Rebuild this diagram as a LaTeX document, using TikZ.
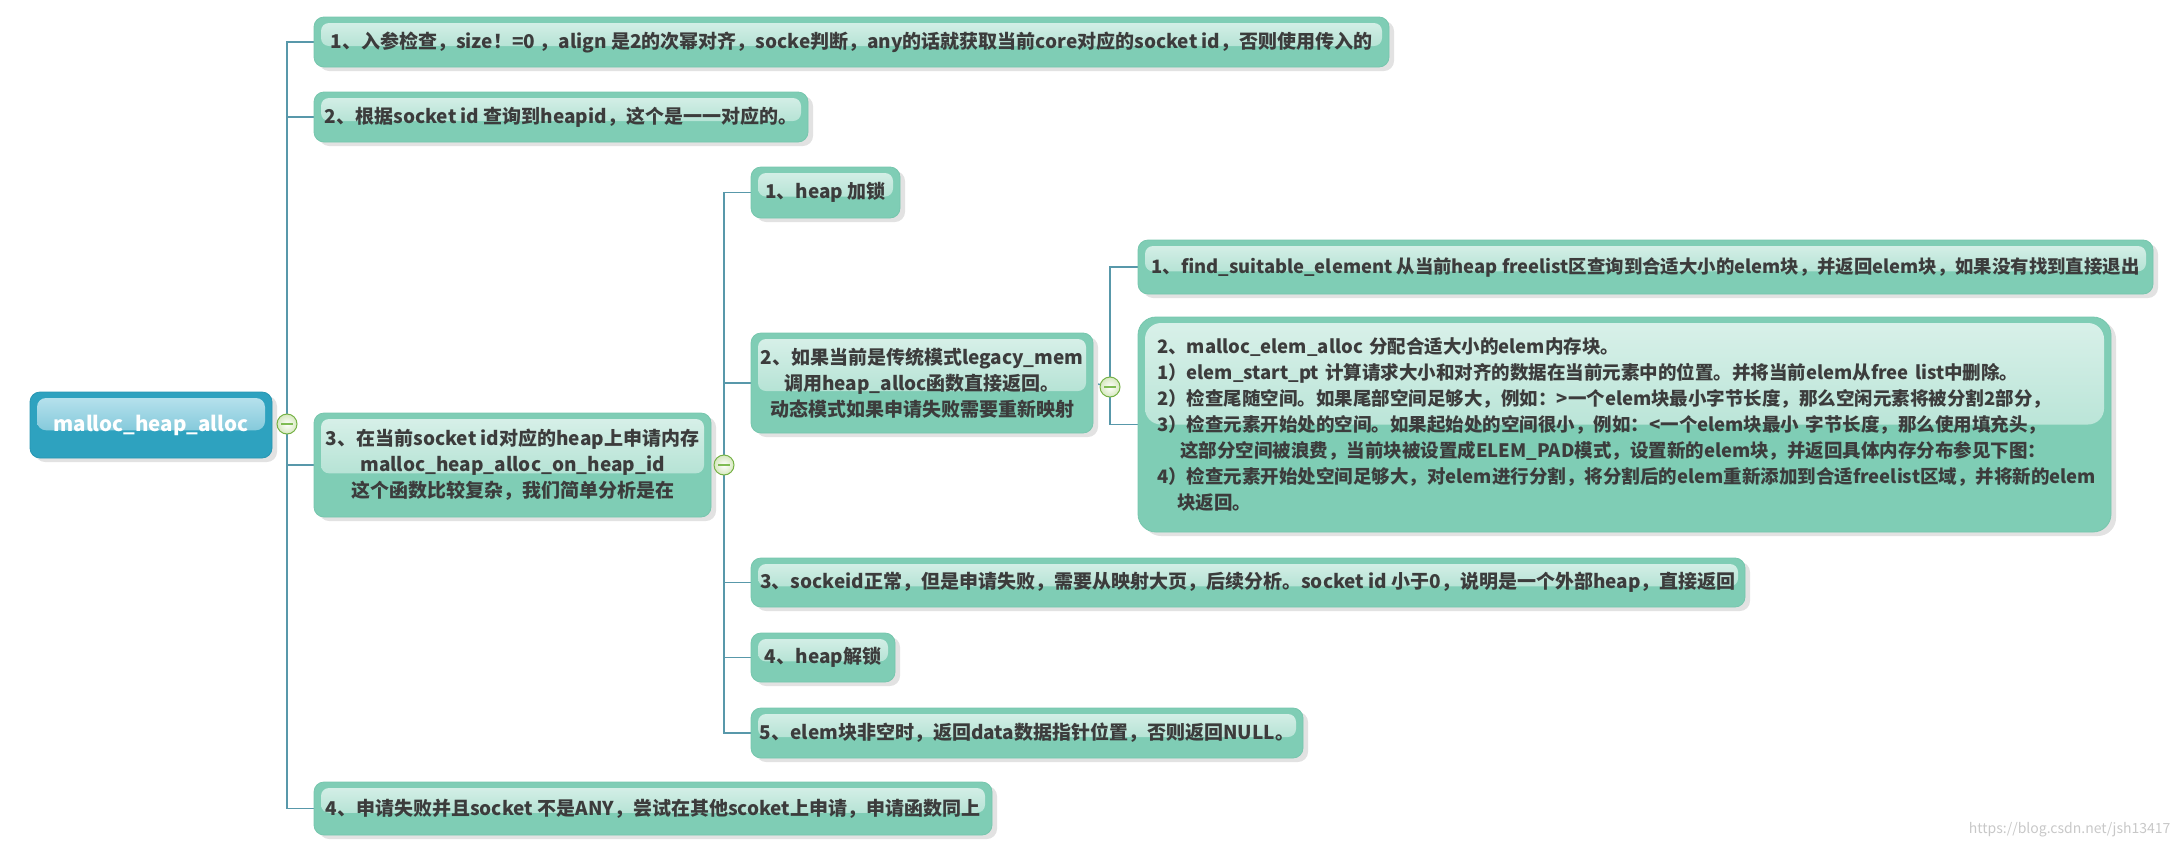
\documentclass[tikz,border=0pt]{standalone}
\usepackage{fontspec}
\setmainfont{Noto Sans CJK SC}
\usetikzlibrary{calc,shadows}
\definecolor{nodefill}{RGB}{127,205,181}
\definecolor{nodeedge}{RGB}{118,198,173}
\definecolor{glosstop}{RGB}{218,241,234}
\definecolor{glossbot}{RGB}{156,217,198}
\definecolor{rootfill}{RGB}{46,162,191}
\definecolor{rootedge}{RGB}{40,150,178}
\definecolor{rglosstop}{RGB}{190,229,239}
\definecolor{rglossbot}{RGB}{92,182,205}
\definecolor{shadowc}{RGB}{226,226,226}
\definecolor{connc}{RGB}{88,152,170}
\definecolor{textc}{RGB}{60,60,60}
\definecolor{circedge}{RGB}{118,178,70}
\definecolor{circfill}{RGB}{214,232,190}
\definecolor{minusc}{RGB}{128,188,84}
\definecolor{wmc}{RGB}{200,200,200}
\pgfdeclarelayer{background}
\pgfsetlayers{background,main}
\tikzset{
  glossy/.style n args={4}{path picture={
    \fill[top color=#1, bottom color=#2, rounded corners=#3]
      ([xshift=7pt,yshift=-6pt]path picture bounding box.north west) rectangle
      ($(path picture bounding box.north east)!#4!(path picture bounding box.south east)+(-7pt,0)$);
  }},
  box/.style={rectangle, rounded corners=10pt, fill=nodefill, draw=nodeedge, line width=0.8pt,
    text=textc, font=\fontsize{19}{26}\selectfont\bfseries, inner xsep=8pt, inner ysep=4pt, align=center,
    drop shadow={shadow xshift=5pt, shadow yshift=-4pt, fill=shadowc, opacity=1},
    glossy={glosstop}{glossbot}{8pt}{0.58}},
  rootbox/.style={rectangle, rounded corners=10pt, fill=rootfill, draw=rootedge, line width=0.8pt,
    text=white, font=\fontsize{20.5}{26}\selectfont\bfseries, inner xsep=8pt, align=center,
    drop shadow={shadow xshift=5pt, shadow yshift=-4pt, fill=shadowc, opacity=1},
    glossy={rglosstop}{rglossbot}{9pt}{0.58}},
  fold/.style={circle, minimum size=20pt, inner sep=0pt, draw=circedge, line width=1pt,
    inner color=white, outer color=circfill,
    path picture={\draw[minusc, line width=2pt]
      ([xshift=-6pt]path picture bounding box.center) -- ([xshift=6pt]path picture bounding box.center);}},
  conn/.style={draw=connc, line width=1.6pt},
}
\begin{document}
\begin{tikzpicture}[x=1pt,y=1pt]
\useasboundingbox (0,0) rectangle (2178,-852);
% root
\node[rootbox, minimum width=242pt, minimum height=66pt] (root) at (151,-425) {malloc\_heap\_alloc};
% level 1
\node[box, minimum width=1075pt, minimum height=50pt] (n1) at (851.5,-42)
  {1、入参检查，size！=0 ，align 是2的次幂对齐，socke判断，any的话就获取当前core对应的socket id，否则使用传入的};
\node[box, minimum width=494pt, minimum height=50pt] (n2) at (561,-117)
  {2、根据socket id 查询到heapid，这个是一一对应的。};
\node[box, minimum width=397pt, minimum height=104pt] (n3) at (512.5,-465)
  {3、在当前socket id对应的heap上申请内存\\malloc\_heap\_alloc\_on\_heap\_id\\这个函数比较复杂，我们简单分析是在};
\node[box, minimum width=678pt, minimum height=53pt] (n4) at (653,-808.5)
  {4、申请失败并且socket 不是ANY，尝试在其他scoket上申请，申请函数同上};
% level 2
\node[box, minimum width=149pt, minimum height=51pt] (m1) at (825.5,-192.5) {1、heap 加锁};
\node[box, minimum width=342pt, minimum height=100pt, inner xsep=4pt] (m2) at (922,-383)
  {2、如果当前是传统模式legacy\_mem\\调用heap\_alloc函数直接返回。\\动态模式如果申请失败需要重新映射};
\node[box, minimum width=994pt, minimum height=49pt] (m3) at (1248,-582.5)
  {3、sockeid正常，但是申请失败，需要从映射大页，后续分析。socket id 小于0，说明是一个外部heap，直接返回};
\node[box, minimum width=144pt, minimum height=49pt] (m4) at (823,-657.5) {4、heap解锁};
\node[box, minimum width=552pt, minimum height=50pt] (m5) at (1027,-733)
  {5、elem块非空时，返回data数据指针位置，否则返回NULL。};
% level 3
\node[box, minimum width=1015pt, minimum height=54pt, inner xsep=4pt, font=\fontsize{18.4}{26}\selectfont\bfseries] (l1) at (1645.5,-267)
  {1、find\_suitable\_element 从当前heap freelist区查询到合适大小的elem块，并返回elem块，如果没有找到直接退出};
\node[box, rounded corners=18pt, glossy={glosstop}{glossbot}{16pt}{0.5}, minimum height=215pt,
  text width=935pt, inner xsep=19pt, align=left, font=\fontsize{18.5}{26}\selectfont\bfseries] (l2) at (1624.5,-424.5)
  {\mbox{2、malloc\_elem\_alloc 分配合适大小的elem内存块。}\\
   \mbox{1）elem\_start\_pt 计算请求大小和对齐的数据在当前元素中的位置。并将当前elem从free list中删除。}\\
   \mbox{2）检查尾随空间。如果尾部空间足够大，例如：>一个elem块最小字节长度，那么空闲元素将被分割2部分，}\\
   \mbox{3）检查元素开始处的空间。如果起始处的空间很小，例如：<一个elem块最小 字节长度，那么使用填充头，}\\
   \mbox{\hspace*{23pt}这部分空间被浪费，当前块被设置成ELEM\_PAD模式，设置新的elem块，并返回具体内存分布参见下图：}\\
   \mbox{4）检查元素开始处空间足够大，对elem进行分割，将分割后的elem重新添加到合适freelist区域，并将新的elem}\\
   \mbox{\hspace*{20pt}块返回。}};
% fold markers
\node[fold] (c0) at (287,-424) {};
\node[fold] (c3) at (724,-465) {};
\node[fold] (c22) at (1110,-387) {};
% connectors
\begin{pgfonlayer}{background}
\draw[conn] (root.east) -- (c0);
\draw[conn] (c0.center) |- (n1.west);
\draw[conn] (c0.center) |- (n2.west);
\draw[conn] (c0.center) |- (n3.west);
\draw[conn] (c0.center) |- (n4.west);
\draw[conn] (n3.east) -- (c3);
\draw[conn] (c3.center) |- (m1.west);
\draw[conn] (c3.center) |- (m2.west);
\draw[conn] (c3.center) |- (m3.west);
\draw[conn] (c3.center) |- (m4.west);
\draw[conn] (c3.center) |- (m5.west);
\draw[conn] (m2.east) -- (c22);
\draw[conn] (c22.center) |- (l1.west);
\draw[conn] (c22.center) |- (l2.west);
\end{pgfonlayer}
% watermark
\node[text=wmc, font=\fontsize{14}{16}\selectfont, anchor=east] (wm) at (2174,-830) {https://blog.csdn.net/jsh13417};
\end{tikzpicture}
\end{document}
